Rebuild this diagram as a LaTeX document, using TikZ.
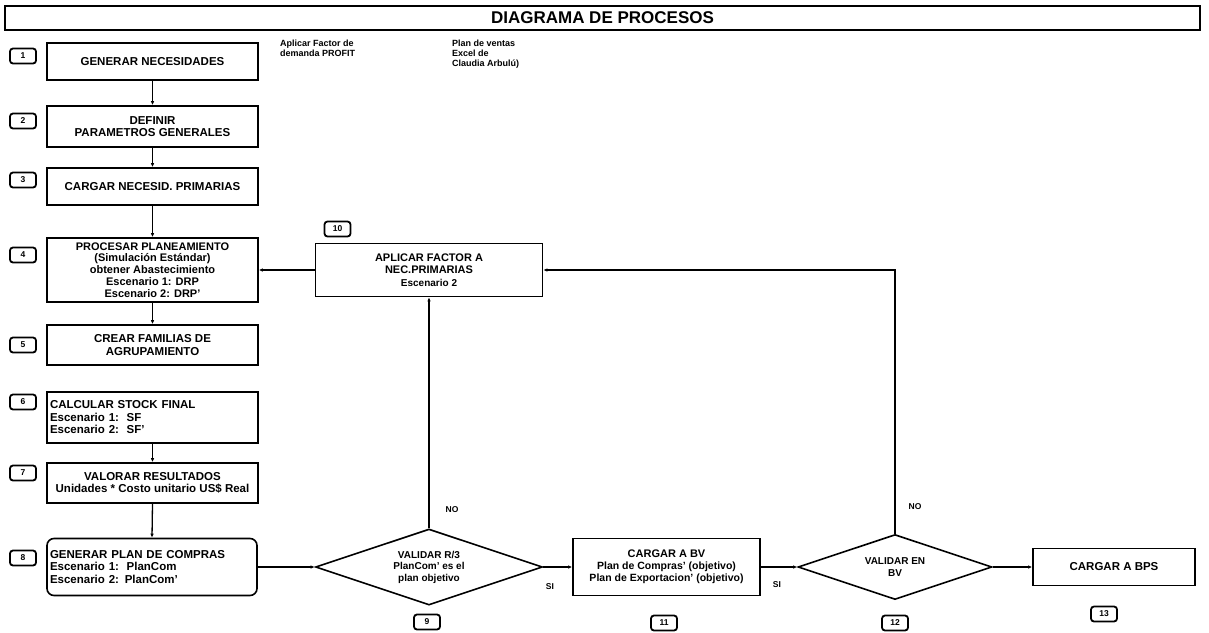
\documentclass[tikz,border=0pt]{standalone}
\usepackage{fontspec}
\setmainfont{Liberation Sans}
\usetikzlibrary{shapes.geometric,arrows.meta}

\begin{document}
\begin{tikzpicture}[x=1pt,y=-1pt,
  proc/.style={draw, line width=1.6pt, inner sep=1pt, align=center,
    font=\bfseries\fontsize{11.5}{12.5}\selectfont},
  lproc/.style={proc, align=left, inner xsep=3pt},
  decision/.style={diamond, draw, line width=1.6pt, inner sep=0pt,
    shape aspect=3, align=center, font=\bfseries\fontsize{10}{11.5}\selectfont},
  tagbox/.style={draw, rounded corners=3pt, line width=1.8pt,
    minimum width=26pt, minimum height=15pt, inner sep=0pt,
    font=\bfseries\fontsize{8.5}{9}\selectfont},
  note/.style={anchor=north west, inner sep=0pt, align=left,
    font=\bfseries\fontsize{9}{10}\selectfont},
  yesno/.style={inner sep=0pt, font=\bfseries\fontsize{8.5}{9}\selectfont},
  conn/.style={line width=1.3pt, -{Latex[length=4pt,width=3.5pt]}}
]
\useasboundingbox (0,0) rectangle (1209,632);

% heading bar
\node[draw, line width=1.8pt, minimum width=1195pt, minimum height=24pt,
  inner sep=0pt, font=\bfseries\fontsize{17}{19}\selectfont] (title) at (602.5,18)
  {DIAGRAMA DE PROCESOS};

% side notes
\node[note] (n1) at (280,40) {Aplicar Factor de\\demanda PROFIT};
\node[note] (n2) at (452,40) {Plan de ventas\\Excel de\\Claudia Arbulú)};

% main column of steps
\node[proc, minimum width=211pt, minimum height=37pt] (b1) at (152.5,61.5)
  {GENERAR NECESIDADES};
\node[proc, minimum width=211pt, minimum height=41pt] (b2) at (152.5,126.5)
  {DEFINIR\\PARAMETROS GENERALES};
\node[proc, minimum width=211pt, minimum height=37pt] (b3) at (152.5,186.5)
  {CARGAR NECESID. PRIMARIAS};
\node[proc, minimum width=211pt, minimum height=64pt,
  font=\bfseries\fontsize{11}{11.8}\selectfont] (b4) at (152.5,270)
  {PROCESAR PLANEAMIENTO\\(Simulación Estándar)\\obtener Abastecimiento\\Escenario 1: DRP\\Escenario 2: DRP'};
\node[proc, minimum width=211pt, minimum height=40pt] (b5) at (152.5,345)
  {CREAR FAMILIAS DE\\AGRUPAMIENTO};
\node[lproc, text width=205pt, minimum height=51pt] (b6) at (152.5,417.5)
  {CALCULAR STOCK FINAL\\Escenario 1:\ \ SF\\Escenario 2:\ \ SF'};
\node[proc, minimum width=211pt, minimum height=40pt] (b7) at (152.5,483)
  {VALORAR RESULTADOS\\Unidades * Costo unitario US\$ Real};
\node[lproc, rounded corners=7pt, text width=204pt, minimum height=57pt] (b8) at (152,567)
  {GENERAR PLAN DE COMPRAS\\Escenario 1:\ \ PlanCom\\Escenario 2: PlanCom'};

% bottom row
\node[decision, minimum width=227pt, minimum height=76pt] (d9) at (429,567)
  {VALIDAR R/3\\PlanCom' es el\\plan objetivo};
\node[proc, minimum width=227pt, minimum height=53pt,
  font=\bfseries\fontsize{11}{12.5}\selectfont] (b10) at (429,270)
  {APLICAR FACTOR A\\NEC.PRIMARIAS\\{\fontsize{10}{12.5}\selectfont Escenario 2}};
\node[proc, minimum width=187pt, minimum height=57pt,
  font=\bfseries\fontsize{10.5}{12}\selectfont] (b11) at (666.5,567)
  {{\fontsize{11}{12}\selectfont CARGAR A BV}\\Plan de Compras' (objetivo)\\Plan de Exportacion' (objetivo)};
\node[decision, minimum width=194pt, minimum height=65pt] (d12) at (895,567)
  {VALIDAR EN\\BV};
\node[proc, minimum width=162pt, minimum height=37pt] (b13) at (1114,567)
  {CARGAR A BPS};

% step numbers
\node[tagbox] (t1) at (23,56) {1};
\node[tagbox] (t2) at (23,121) {2};
\node[tagbox] (t3) at (23,180) {3};
\node[tagbox] (t4) at (23,255) {4};
\node[tagbox] (t5) at (23,345) {5};
\node[tagbox] (t6) at (23,402) {6};
\node[tagbox] (t7) at (23,473) {7};
\node[tagbox] (t8) at (23,558) {8};
\node[tagbox] (t9) at (427,622) {9};
\node[tagbox] (t10) at (337.5,229) {10};
\node[tagbox] (t11) at (664,623) {11};
\node[tagbox] (t12) at (895,623) {12};
\node[tagbox] (t13) at (1104,614) {13};

% flow
\draw[conn] (b1.south) -- (b2.north);
\draw[conn] (b2.south) -- (b3.north);
\draw[conn] (b3.south) -- (b4.north);
\draw[conn] (b4.south) -- (b5.north);
\draw[conn] (b6.south) -- (b7.north);
\draw[conn] (b7.south) -- (b8.north);
\draw[conn] (b8.east) -- (d9.west);
\draw[conn] (d9.east) -- (b11.west);
\draw[conn] (b11.east) -- (d12.west);
\draw[conn] (d12.east) -- (b13.west);
\draw[conn] (d9.north) -- (b10.south);
\draw[conn] (d12.north) |- (b10.east);
\draw[conn] (b10.west) -- (b4.east);

% branch labels
\node[yesno] (no9) at (452,510) {NO};
\node[yesno] (si9) at (550,587) {SI};
\node[yesno] (si11) at (777,585) {SI};
\node[yesno] (no12) at (915,507) {NO};
\end{tikzpicture}
\end{document}
